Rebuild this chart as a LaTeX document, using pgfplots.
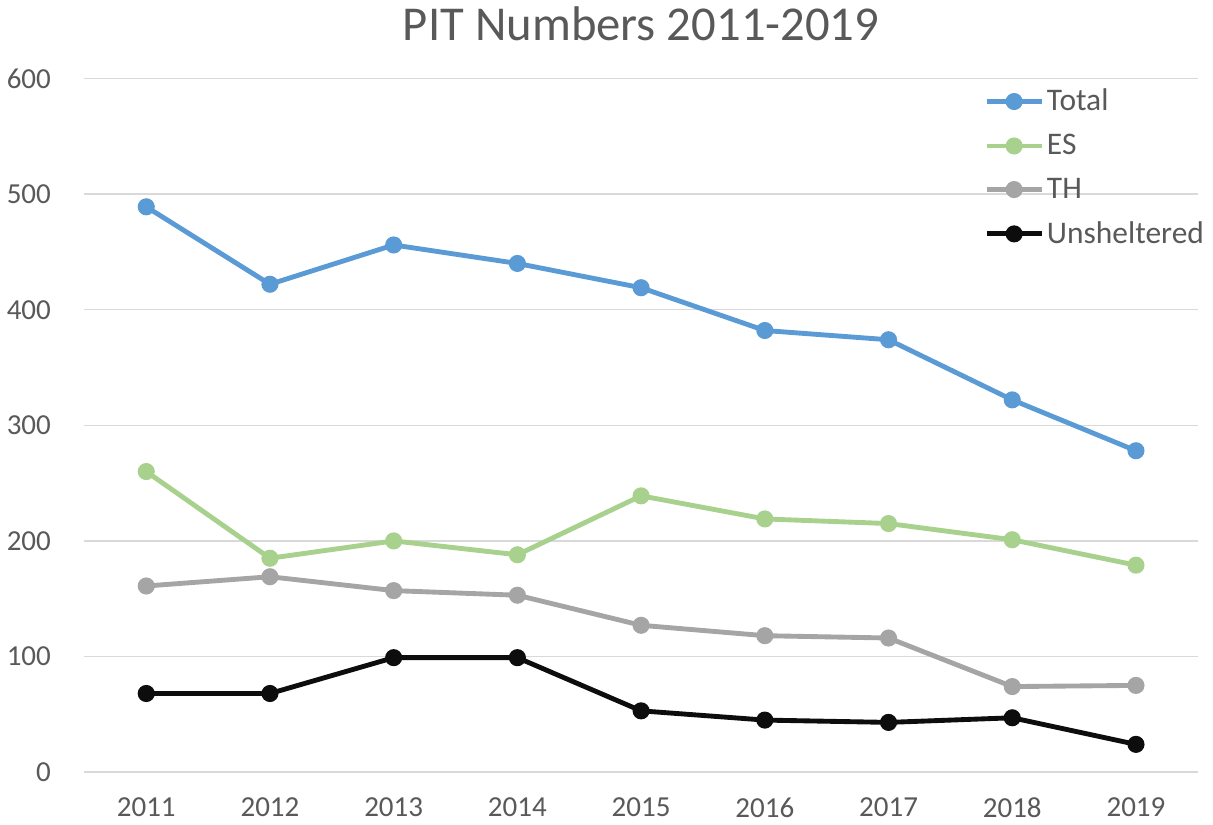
\documentclass[border=0pt]{standalone}
\usepackage{pgfplots}
\pgfplotsset{compat=1.18}
\usepackage{fontspec}
\setmainfont{Carlito}
\definecolor{cTotal}{HTML}{5B9BD5}
\definecolor{cES}{HTML}{A9D18E}
\definecolor{cTH}{HTML}{A5A5A5}
\definecolor{cUn}{HTML}{0D0D0D}
\definecolor{txt}{HTML}{595959}
\definecolor{gridc}{HTML}{D9D9D9}
\begin{document}
\begin{tikzpicture}
\begin{axis}[
  scale only axis, width=549pt, height=342pt,
  xmin=-0.5, xmax=8.5, ymin=0, ymax=600,
  xtick={0,...,8}, xticklabels={2011,2012,2013,2014,2015,2016,2017,2018,2019},
  ytick={0,100,...,600},
  /pgf/number format/assume math mode=true,
  ymajorgrids, grid style={color=gridc, line width=0.7pt},
  axis x line*=bottom, axis y line*=left,
  x axis line style={color=gridc, line width=0.7pt, -},
  y axis line style={draw=none},
  major tick length=0pt,
  tick label style={font=\fontsize{14.3}{16}\selectfont, color=txt},
  xticklabel style={yshift=-9pt},
  yticklabel style={xshift=-13pt},
  title={PIT Numbers 2011-2019},
  title style={font=\fontsize{24}{28}\selectfont, color=txt, yshift=9pt},
  every axis plot/.append style={line width=2.4pt, mark=*, mark size=3pt},
  legend image code/.code={
    \draw[mark repeat=2,mark phase=2] plot coordinates {(0pt,0pt)(13.5pt,0pt)(27pt,0pt)};},
  legend style={at={(rel axis cs:1.014,0.997)}, anchor=north east, draw=none, fill=none,
    font=\fontsize{15.5}{17}\selectfont, text=txt, row sep=6pt,
    nodes={inner xsep=1.5pt}},
  legend cell align=left,
]
\addplot[color=cTotal, mark options={fill=cTotal}] coordinates {(0,489) (1,422) (2,456) (3,440) (4,419) (5,382) (6,374) (7,322) (8,278)};
\addlegendentry{Total}
\addplot[color=cES, mark options={fill=cES}] coordinates {(0,260) (1,185) (2,200) (3,188) (4,239) (5,219) (6,215) (7,201) (8,179)};
\addlegendentry{ES}
\addplot[color=cTH, mark options={fill=cTH}] coordinates {(0,161) (1,169) (2,157) (3,153) (4,127) (5,118) (6,116) (7,74) (8,75)};
\addlegendentry{TH}
\addplot[color=cUn, mark options={fill=cUn}] coordinates {(0,68) (1,68) (2,99) (3,99) (4,53) (5,45) (6,43) (7,47) (8,24)};
\addlegendentry{Unsheltered}
\end{axis}
\end{tikzpicture}
\end{document}
